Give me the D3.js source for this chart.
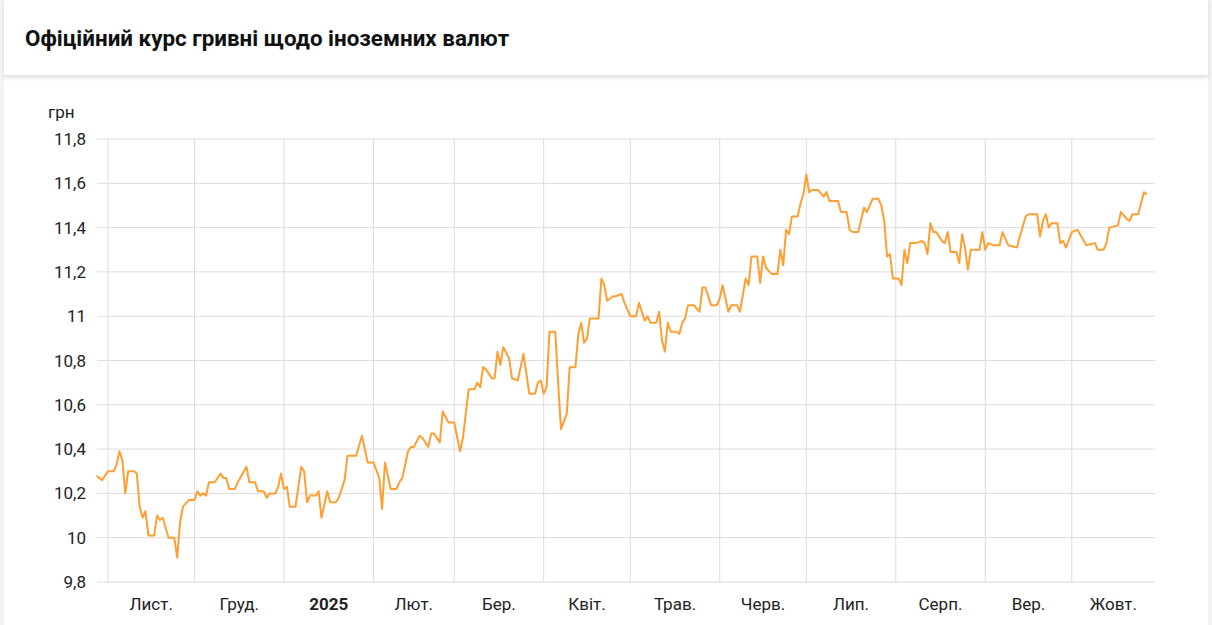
<!DOCTYPE html>
<html>
<head>
<meta charset="utf-8">
<script src="https://cdn.jsdelivr.net/npm/d3@7"></script>
<style>
  body { margin: 0; background: #f3f3f3; font-family: Roboto, sans-serif; }
  #card { position: absolute; left: 4px; top: 0; width: 1204px; height: 625px; background: #fff; }
  #head { height: 75px; border-bottom: 1px solid #e3e3e3; box-shadow: 0 2px 4px rgba(0,0,0,0.12); }
  #head h1 { margin: 0; padding: 25px 0 0 21px; font-size: 22.4px; font-weight: bold; color: #111; }
</style>
</head>
<body>
<div id="card"><div id="head"><h1>Офіційний курс гривні щодо іноземних валют</h1></div></div>
<div id="figure" style="position:absolute;left:0;top:0"></div>
<script>
const width = 1212, height = 625;

// days since 2024-10-28, and rate in UAH
const days = [0,2,4,6,7,8,9,10,11,13,14,15,16,17,18,20,21,22,23,25,27,28,29,30,32,34,35,36,37,38,39,41,43,44,45,46,48,49,52,53,55,56,58,59,60,62,63,64,65,66,67,69,71,72,73,74,76,77,78,80,81,83,84,86,87,90,92,94,96,98,99,100,102,104,105,106,108,109,110,112,113,115,116,117,119,120,122,124,126,127,129,131,132,133,134,135,137,138,139,140,141,143,144,146,148,150,152,153,154,155,156,157,159,160,161,163,164,166,167,168,169,170,171,174,175,176,177,179,180,182,183,185,187,188,190,191,192,194,195,196,197,198,199,201,202,203,204,205,207,209,210,211,213,215,216,217,219,220,222,223,225,226,227,229,230,231,232,234,236,237,238,239,240,241,243,244,245,246,247,248,250,252,253,254,255,257,258,259,260,261,262,264,266,267,269,271,272,273,274,275,276,278,279,280,281,282,284,286,287,288,289,290,291,293,294,295,296,298,299,300,301,302,303,306,307,308,309,311,313,314,316,319,320,322,323,326,327,328,329,330,331,333,334,335,336,338,340,343,346,347,349,350,351,354,355,357,358,359,361,362,363,364];
const rates = [10.28,10.26,10.30,10.30,10.33,10.39,10.35,10.20,10.30,10.30,10.29,10.14,10.09,10.12,10.01,10.01,10.10,10.08,10.09,10.00,10.00,9.91,10.07,10.14,10.17,10.17,10.21,10.19,10.20,10.19,10.25,10.25,10.29,10.27,10.27,10.22,10.22,10.25,10.32,10.25,10.25,10.21,10.21,10.18,10.20,10.20,10.23,10.29,10.22,10.23,10.14,10.14,10.32,10.30,10.16,10.19,10.19,10.21,10.09,10.21,10.16,10.16,10.18,10.26,10.37,10.37,10.46,10.34,10.34,10.27,10.13,10.34,10.22,10.22,10.25,10.27,10.39,10.41,10.41,10.46,10.45,10.41,10.47,10.47,10.43,10.57,10.52,10.52,10.39,10.45,10.67,10.67,10.70,10.68,10.77,10.76,10.72,10.72,10.84,10.78,10.86,10.81,10.72,10.71,10.83,10.65,10.65,10.70,10.71,10.65,10.68,10.93,10.93,10.70,10.49,10.56,10.77,10.77,10.92,10.97,10.88,10.90,10.99,10.99,11.17,11.14,11.07,11.09,11.09,11.10,11.06,11.00,11.00,11.06,10.98,11.00,10.97,10.97,11.02,10.89,10.84,10.97,10.93,10.93,10.92,10.97,10.99,11.05,11.05,11.02,11.13,11.13,11.05,11.05,11.08,11.14,11.02,11.05,11.05,11.02,11.17,11.14,11.27,11.27,11.15,11.27,11.22,11.19,11.19,11.30,11.23,11.39,11.37,11.45,11.45,11.51,11.55,11.64,11.56,11.57,11.57,11.54,11.56,11.52,11.52,11.52,11.47,11.47,11.47,11.39,11.38,11.38,11.49,11.47,11.53,11.53,11.50,11.43,11.27,11.28,11.17,11.17,11.14,11.30,11.24,11.33,11.33,11.34,11.33,11.28,11.42,11.38,11.38,11.34,11.33,11.38,11.29,11.29,11.24,11.37,11.31,11.21,11.30,11.30,11.38,11.30,11.33,11.32,11.32,11.38,11.32,11.31,11.36,11.45,11.46,11.46,11.36,11.43,11.46,11.40,11.42,11.42,11.33,11.34,11.31,11.38,11.39,11.32,11.33,11.30,11.30,11.33,11.40,11.41,11.47,11.44,11.43,11.46,11.46,11.51,11.56,11.55];
const yTicks = [9.8, 10, 10.2, 10.4, 10.6, 10.8, 11, 11.2, 11.4, 11.6, 11.8];
const monthLabels = ['Лист.','Груд.','2025','Лют.','Бер.','Квіт.','Трав.','Черв.','Лип.','Серп.','Вер.','Жовт.'];

const start = new Date(2024, 9, 28);
const data = days.map((d, i) => ({date: d3.timeDay.offset(start, d), value: rates[i]}));

var svg = d3.select('#figure').append('svg').attr('width', width).attr('height', height);

const x = d3.scaleTime()
    .domain([new Date(2024, 9, 28, 5), new Date(2025, 9, 29, 20)])
    .range([97, 1155]);
const y = d3.scaleLinear().domain([9.8, 11.8]).range([582, 139]);

const fmt = v => String(+v.toFixed(1)).replace('.', ',');

// horizontal grid
svg.append('g').selectAll('line').data(yTicks).enter().append('line')
    .attr('x1', 97).attr('x2', 1155)
    .attr('y1', d => y(d)).attr('y2', d => y(d))
    .attr('stroke', '#dcdcdc');

// month grid
const months = d3.timeMonth.range(new Date(2024, 10, 1), new Date(2025, 9, 2));
svg.append('g').selectAll('line').data(months).enter().append('line')
    .attr('x1', d => x(d)).attr('x2', d => x(d))
    .attr('y1', 139).attr('y2', 582)
    .attr('stroke', '#dcdcdc');

svg.append('g').selectAll('text').data(yTicks).enter().append('text')
    .attr('x', 86).attr('y', d => y(d) + 6)
    .attr('text-anchor', 'end').attr('font-size', 17).attr('fill', '#222')
    .text(fmt);

svg.append('text').attr('x', 48).attr('y', 118).attr('font-size', 17).attr('fill', '#222').text('грн');

svg.append('g').selectAll('text').data(months).enter().append('text')
    .attr('x', d => (x(d) + Math.min(x(d3.timeMonth.offset(d, 1)), 1155)) / 2)
    .attr('y', 610).attr('text-anchor', 'middle').attr('font-size', 17).attr('fill', '#222')
    .attr('font-weight', (d, i) => monthLabels[i] === '2025' ? 'bold' : 'normal')
    .text((d, i) => monthLabels[i]);

svg.append('path').datum(data)
    .attr('fill', 'none').attr('stroke', '#ff9f33').attr('stroke-width', 2)
    .attr('stroke-linejoin', 'round')
    .attr('d', d3.line().x(d => x(d.date)).y(d => y(d.value)));
</script>
</body>
</html>
